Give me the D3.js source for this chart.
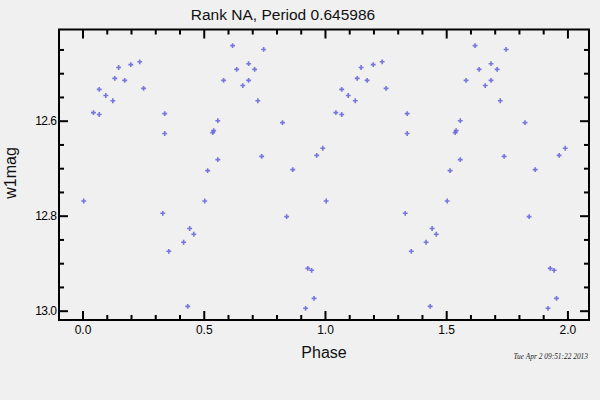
<!DOCTYPE html>
<html>
<head>
<meta charset="utf-8">
<script src="https://cdn.jsdelivr.net/npm/d3@7"></script>
<style>
  html, body { margin: 0; padding: 0; background: #f0f0f0; }
  svg { display: block; }
  text { font-family: "Liberation Sans", Arial, sans-serif; }
</style>
</head>
<body>
<svg id="chart" width="600" height="400"></svg>
<script>
// Folded light-curve data (phase in [0,1), w1 magnitude)
const phases = [0.005, 0.045, 0.069, 0.069, 0.096, 0.125, 0.133, 0.149, 0.174, 0.199,
                0.236, 0.252, 0.331, 0.339, 0.339, 0.356, 0.417, 0.434, 0.442, 0.459,
                0.504, 0.516, 0.537, 0.541, 0.558, 0.558, 0.582, 0.619, 0.636, 0.661,
                0.685, 0.685, 0.710, 0.723, 0.739, 0.747, 0.825, 0.842, 0.867, 0.920,
                0.929, 0.945, 0.955, 0.966, 0.991];
const mags   = [12.769, 12.583, 12.587, 12.534, 12.547, 12.558, 12.511, 12.488, 12.515, 12.482,
                12.476, 12.532, 12.795, 12.585, 12.627, 12.875, 12.856, 12.991, 12.827, 12.839,
                12.769, 12.705, 12.625, 12.621, 12.600, 12.682, 12.515, 12.442, 12.492, 12.526,
                12.480, 12.515, 12.492, 12.558, 12.675, 12.450, 12.604, 12.802, 12.703, 12.995,
                12.911, 12.915, 12.974, 12.673, 12.658];
const cycles = [0, 1];
const xMajorTicks = [0, 0.5, 1, 1.5, 2];
const yMajorTicks = [12.6, 12.8, 13.0];
const titleText = "Rank NA, Period 0.645986";
const xLabel = "Phase";
const yLabel = "w1mag";
const stamp = "Tue Apr 2 09:51:22 2013";

const svg = d3.select("#chart");
const L = 59, R = 589, T = 29.5, B = 320;

const x = d3.scaleLinear().domain([-0.097, 2.089]).range([L, R]);
const y = d3.scaleLinear().domain([12.408, 13.0196]).range([T, B]);

const xMinor = d3.range(0, 2.05, 0.1).filter(v => Math.abs(v * 2 - Math.round(v * 2)) > 1e-6);
const yMinor = d3.range(12.45, 13.001, 0.05).filter(v => Math.abs(v * 5 - Math.round(v * 5)) > 1e-6);

// Background
svg.append("rect").attr("width", 600).attr("height", 400).attr("fill", "#f0f0f0");

function styleAxis(g) {
  g.select(".domain").remove();
  g.selectAll("line").attr("stroke", "#000").attr("stroke-width", 2);
  g.selectAll("text").attr("fill", "#000").style("font-size", "12px")
    .style("font-family", "'Liberation Sans', Arial, sans-serif");
}

// Bottom axis
svg.append("g").attr("transform", `translate(0,${B})`)
  .call(d3.axisBottom(x).tickValues(xMajorTicks).tickFormat(d3.format(".1f"))
    .tickSize(-9).tickPadding(5.5))
  .call(styleAxis);
svg.append("g").attr("transform", `translate(0,${B})`)
  .call(d3.axisBottom(x).tickValues(xMinor).tickFormat("").tickSize(-5))
  .call(styleAxis);
// Top axis
svg.append("g").attr("transform", `translate(0,${T})`)
  .call(d3.axisTop(x).tickValues(xMajorTicks).tickFormat("").tickSize(-9))
  .call(styleAxis);
svg.append("g").attr("transform", `translate(0,${T})`)
  .call(d3.axisTop(x).tickValues(xMinor).tickFormat("").tickSize(-5))
  .call(styleAxis);
// Left axis
svg.append("g").attr("transform", `translate(${L},0)`)
  .call(d3.axisLeft(y).tickValues(yMajorTicks).tickFormat(d3.format(".1f"))
    .tickSize(-9).tickPadding(2.5))
  .call(styleAxis)
  .call(g => g.selectAll("text").style("letter-spacing", "-0.5px"));
svg.append("g").attr("transform", `translate(${L},0)`)
  .call(d3.axisLeft(y).tickValues(yMinor).tickFormat("").tickSize(-5))
  .call(styleAxis);
// Right axis
svg.append("g").attr("transform", `translate(${R},0)`)
  .call(d3.axisRight(y).tickValues(yMajorTicks).tickFormat("").tickSize(-9))
  .call(styleAxis);
svg.append("g").attr("transform", `translate(${R},0)`)
  .call(d3.axisRight(y).tickValues(yMinor).tickFormat("").tickSize(-5))
  .call(styleAxis);

// Frame
svg.append("rect").attr("x", L).attr("y", T).attr("width", R - L).attr("height", B - T)
  .attr("fill", "none").attr("stroke", "#000").attr("stroke-width", 2);

// Points
const pts = [];
cycles.forEach(c => phases.forEach((p, i) => pts.push({ p: p + c, m: mags[i] })));
svg.append("g").selectAll("path").data(pts).join("path")
  .attr("transform", d => `translate(${x(d.p)},${y(d.m)})`)
  .attr("d", d3.symbol(d3.symbolCross, 13))
  .attr("fill", "#6060e0").attr("fill-opacity", 0.85);

// Title and labels
svg.append("text").attr("x", 283).attr("y", 20).attr("text-anchor", "middle")
  .style("font-size", "15.5px").attr("fill", "#111").text(titleText);
svg.append("text").attr("x", 324).attr("y", 358).attr("text-anchor", "middle")
  .style("font-size", "16px").attr("fill", "#111").text(xLabel);
svg.append("text").attr("transform", "translate(16,173) rotate(-90)").attr("text-anchor", "middle")
  .style("font-size", "16px").attr("fill", "#111").text(yLabel);
svg.append("text").attr("x", 588).attr("y", 359).attr("text-anchor", "end")
  .style("font-family", "'Liberation Serif', serif").style("font-style", "italic")
  .style("font-size", "7.4px").attr("fill", "#222").text(stamp);
</script>
</body>
</html>
